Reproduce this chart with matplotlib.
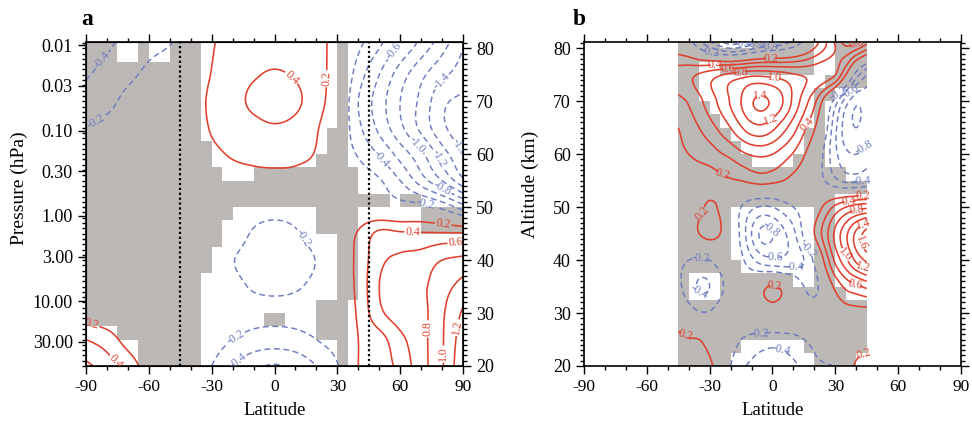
import numpy as np
import matplotlib
matplotlib.use("Agg")
import matplotlib.pyplot as plt
from matplotlib.colors import ListedColormap
from matplotlib.ticker import MultipleLocator, FixedLocator

plt.rcParams["font.family"] = ["Liberation Serif", "DejaVu Serif"]
plt.rcParams["axes.unicode_minus"] = False

GRAY = "#bcb8b6"
RED = "#e0402e"
BLUE = "#6d7cc0"

# ---------------- data ----------------
# field rows go from 80 km (top) down to 20 km, every 5 km
alt_km = np.arange(80, 19, -5)
lat_a = np.arange(-90, 91, 10)
lat_b = np.arange(-45, 46, 5)

# panel a, columns -90 .. 90 every 10 deg
field_a = [
    [-0.50, -0.42, -0.32, -0.24, -0.19, -0.10, 0.18, 0.26, 0.30, 0.32, 0.30, 0.25, 0.12, -0.17, -0.40, -0.65, -0.90, -1.15, -1.40],
    [-0.42, -0.33, -0.24, -0.16, -0.10, 0.00, 0.21, 0.30, 0.38, 0.42, 0.38, 0.28, 0.08, -0.30, -0.60, -0.90, -1.15, -1.35, -1.50],
    [-0.30, -0.25, -0.15, -0.10, -0.05, 0.05, 0.25, 0.33, 0.44, 0.50, 0.44, 0.28, 0.05, -0.40, -0.70, -1.00, -1.25, -1.55, -1.65],
    [-0.20, -0.15, -0.10, -0.06, -0.03, 0.05, 0.22, 0.28, 0.34, 0.38, 0.34, 0.22, 0.00, -0.35, -0.65, -0.95, -1.25, -1.55, -1.75],
    [-0.12, -0.08, -0.05, -0.03, 0.00, 0.05, 0.15, 0.22, 0.25, 0.27, 0.25, 0.18, -0.05, -0.22, -0.42, -0.68, -0.95, -1.30, -1.60],
    [-0.05, -0.03, -0.02, 0.00, 0.00, 0.02, 0.05, 0.10, 0.12, 0.12, 0.12, 0.08, -0.02, -0.08, -0.18, -0.40, -0.70, -1.00, -1.35],
    [0.00, 0.00, 0.00, 0.02, 0.03, 0.03, 0.00, -0.05, -0.10, -0.12, -0.10, -0.05, 0.00, 0.02, -0.05, -0.10, -0.12, -0.25, -0.50],
    [0.00, 0.00, 0.00, 0.02, 0.03, 0.02, -0.05, -0.10, -0.22, -0.26, -0.22, -0.10, 0.05, 0.22, 0.45, 0.43, 0.42, 0.42, 0.42],
    [0.00, 0.00, 0.00, 0.00, 0.00, 0.00, -0.05, -0.19, -0.27, -0.30, -0.27, -0.19, 0.05, 0.25, 0.55, 0.64, 0.68, 0.80, 0.85],
    [0.00, 0.00, 0.00, 0.00, 0.00, 0.00, -0.05, -0.14, -0.22, -0.24, -0.22, -0.14, 0.05, 0.25, 0.60, 0.72, 0.76, 0.92, 1.07],
    [0.10, 0.05, 0.00, 0.00, 0.00, 0.00, -0.03, -0.08, -0.13, -0.15, -0.13, -0.08, 0.02, 0.23, 0.55, 0.70, 0.74, 0.97, 1.23],
    [0.40, 0.30, 0.12, 0.02, 0.00, -0.03, -0.10, -0.20, -0.28, -0.30, -0.28, -0.20, -0.08, 0.20, 0.32, 0.55, 0.73, 0.98, 1.32],
    [0.65, 0.50, 0.32, 0.10, 0.00, -0.05, -0.20, -0.40, -0.55, -0.62, -0.55, -0.40, -0.22, 0.20, 0.28, 0.47, 0.72, 0.98, 1.38],
]

# panel b, columns -45 .. 45 every 5 deg
field_b = [
    [0.10, 0.00, -0.20, -0.35, -0.50, -0.60, -0.55, -0.45, -0.35, -0.30, -0.25, -0.15, 0.00, 0.20, 0.40, 0.60, 0.75, 0.65, 0.45],
    [0.50, 0.55, 0.62, 0.70, 0.78, 0.85, 0.90, 0.95, 0.95, 0.92, 0.88, 0.82, 0.78, 0.75, 0.72, 0.60, 0.20, -0.30, -0.60],
    [0.35, 0.42, 0.55, 0.70, 0.85, 1.02, 1.20, 1.38, 1.44, 1.36, 1.20, 0.95, 0.70, 0.45, 0.10, -0.30, -0.70, -0.95, -0.90],
    [0.20, 0.30, 0.40, 0.52, 0.65, 0.80, 0.98, 1.12, 1.15, 1.05, 0.88, 0.68, 0.45, 0.22, -0.10, -0.55, -0.90, -1.00, -0.90],
    [0.15, 0.20, 0.25, 0.30, 0.38, 0.45, 0.55, 0.62, 0.64, 0.60, 0.50, 0.38, 0.22, 0.02, -0.25, -0.55, -0.75, -0.80, -0.70],
    [0.05, 0.08, 0.10, 0.12, 0.15, 0.18, 0.20, 0.25, 0.28, 0.25, 0.20, 0.12, 0.05, -0.05, -0.20, -0.35, -0.45, -0.45, -0.40],
    [0.00, 0.05, 0.15, 0.23, 0.17, 0.00, -0.20, -0.35, -0.42, -0.40, -0.30, -0.20, -0.10, 0.05, 0.25, 0.45, 0.60, 0.70, 0.75],
    [-0.05, 0.05, 0.20, 0.28, 0.20, 0.00, -0.25, -0.60, -0.85, -0.80, -0.65, -0.45, -0.15, 0.20, 0.50, 0.85, 1.15, 1.45, 1.70],
    [-0.15, -0.20, -0.22, -0.20, -0.10, -0.05, -0.15, -0.35, -0.50, -0.55, -0.55, -0.50, -0.40, -0.15, 0.25, 0.65, 0.95, 1.25, 1.45],
    [-0.15, -0.30, -0.42, -0.40, -0.25, -0.10, 0.00, 0.05, 0.15, 0.22, 0.15, 0.00, -0.20, -0.28, 0.00, 0.25, 0.45, 0.55, 0.65],
    [0.00, -0.10, -0.18, -0.18, -0.10, -0.05, 0.00, 0.00, 0.05, 0.08, 0.05, 0.00, -0.05, -0.05, 0.00, 0.05, 0.10, 0.12, 0.12],
    [0.28, 0.22, 0.20, 0.10, 0.00, -0.10, -0.20, -0.25, -0.28, -0.30, -0.28, -0.25, -0.20, -0.15, -0.05, 0.00, 0.00, 0.05, 0.10],
    [0.40, 0.35, 0.30, 0.25, 0.05, -0.20, -0.35, -0.45, -0.55, -0.60, -0.55, -0.45, -0.35, -0.25, -0.22, -0.18, 0.00, 0.25, 0.35],
]

# shaded (not significant) cells, 5 deg x 2.5 km, run-length rows from 82.5 km down to 20 km
mask_a = [
    "3# 2. 1# 2. 3# 13. 1# 11.",
    "3# 2. 1# 2. 3# 13. 1# 11.",
    "11# 13. 1# 11.",
    "11# 13. 1# 11.",
    "11# 13. 1# 11.",
    "11# 13. 1# 11.",
    "11# 13. 1# 11.",
    "11# 12. 2# 11.",
    "12# 11. 2# 11.",
    "12# 10. 3# 11.",
    "13# 3. 10# 10.",
    "26# 10.",
    "29# 1. 2# 4.",
    "14# 8. 4# 6. 4#",
    "13# 9. 4# 6. 4#",
    "13# 11. 2# 10.",
    "12# 12. 2# 10.",
    "12# 12. 2# 10.",
    "11# 13. 2# 10.",
    "11# 13. 2# 10.",
    "11# 11. 3# 11.",
    "11# 6. 2# 3. 3# 11.",
    "3. 8# 11. 3# 11.",
    "5. 6# 13. 1# 11.",
    "5. 6# 13. 1# 11.",
]
mask_b = [
    "4# 3. 6# 2. 3#",
    "13# 2. 3#",
    "2# 2. 9# 2. 3#",
    "2# 12. 4#",
    "2# 11. 2# 3.",
    "3# 10. 1# 4.",
    "4# 9. 1# 4.",
    "5# 7. 2# 4.",
    "6# 6. 2# 4.",
    "7# 4. 3# 4.",
    "16# 2.",
    "18#",
    "15# 3.",
    "5# 8. 2# 3.",
    "5# 8. 2# 3.",
    "5# 8. 2# 3.",
    "5# 8. 2# 3.",
    "6# 7. 2# 3.",
    "1# 3. 7# 2. 2# 3.",
    "1# 3. 12# 2.",
    "18#",
    "18#",
    "18#",
    "6# 6. 6#",
    "5# 8. 4# 1.",
]

p_ticks = [0.01, 0.03, 0.1, 0.3, 1, 3, 10, 30]
p_labels = ["0.01", "0.03", "0.10", "0.30", "1.00", "3.00", "10.00", "30.00"]
scale_height = 7.0   # km, log-pressure altitude


def unrun(rows):
    out = []
    for row in rows:
        line = []
        for tok in row.split():
            line += [tok[-1] == "#"] * int(tok[:-1])
        out.append(line)
    return np.array(out[::-1])


def catmull(v, u, axis):
    v = np.moveaxis(np.asarray(v, float), axis, 0)
    n = len(v)
    i = np.clip(np.floor(u).astype(int), 0, n - 2)
    t = (u - i)[:, None]
    vp = np.concatenate([2 * v[:1] - v[1:2], v, 2 * v[-1:] - v[-2:-1]])
    p0, p1, p2, p3 = vp[i], vp[i + 1], vp[i + 2], vp[i + 3]
    r = 0.5 * (2 * p1 + (p2 - p0) * t + (2 * p0 - 5 * p1 + 4 * p2 - p3) * t ** 2
               + (3 * p1 - p0 - 3 * p2 + p3) * t ** 3)
    return np.moveaxis(r, 0, axis)


def draw(ax, lats, field, mask_rows):
    m = unrun(mask_rows)
    lat_edges = np.linspace(lats[0], lats[-1], m.shape[1] + 1)
    alt_edges = 20 + 2.5 * np.arange(m.shape[0] + 1)
    ax.pcolormesh(lat_edges, alt_edges, np.ma.masked_where(~m, np.ones(m.shape)),
                  cmap=ListedColormap([GRAY]), shading="flat", zorder=1)

    z = np.array(field, float)[::-1]
    alt_up = alt_km[::-1]
    lat_f = np.linspace(lats[0], lats[-1], 20 * (len(lats) - 1) + 1)
    alt_f = np.linspace(20, 81.25, 246)
    zf = catmull(z, (alt_f - alt_up[0]) / 5.0, 0)
    zf = catmull(zf, (lat_f - lats[0]) / (lats[1] - lats[0]), 1)

    pos = np.round(np.arange(0.2, 2.01, 0.2), 1)
    neg = -pos[::-1]
    cp = ax.contour(lat_f, alt_f, zf, levels=pos, colors=RED, linewidths=1.15, zorder=2)
    cn = ax.contour(lat_f, alt_f, zf, levels=neg, colors=BLUE, linewidths=1.05,
                    linestyles=[(0, (4, 2.5))], zorder=2)
    for cs in (cp, cn):
        ax.clabel(cs, fmt="%.1f", fontsize=8.5, inline=True, inline_spacing=1)


def style(ax):
    ax.set_xlim(-90, 90)
    ax.set_ylim(20, 81.2)
    ax.xaxis.set_major_locator(MultipleLocator(30))
    ax.xaxis.set_minor_locator(MultipleLocator(10))
    ax.tick_params(which="both", direction="out", top=True, width=1)
    ax.tick_params(axis="x", labelsize=12.5)
    ax.tick_params(axis="y", labelsize=13)
    ax.tick_params(which="major", length=6)
    ax.tick_params(which="minor", length=3)
    for s in ax.spines.values():
        s.set_linewidth(1.2)
    ax.set_xlabel("Latitude", fontsize=13.5)
    ax.xaxis.set_label_coords(0.5, -0.11)


fig = plt.figure(figsize=(9.72, 4.23), dpi=100)
axa = fig.add_axes([0.0885, 0.1348, 0.3879, 0.766])
axb = fig.add_axes([0.6008, 0.1348, 0.3879, 0.766])

# panel a
draw(axa, lat_a, field_a, mask_a)
style(axa)
for x0 in (-45, 45):
    axa.axvline(x0, color="k", ls=(0, (1, 1.2)), lw=1.6, zorder=3)
axa.yaxis.set_major_locator(FixedLocator([scale_height * np.log(1000 / p) for p in p_ticks]))
axa.set_yticklabels(p_labels)
axa.yaxis.set_minor_locator(MultipleLocator(1))
axa.set_ylabel("Pressure (hPa)", fontsize=14)
axa.yaxis.set_label_coords(-0.155, 0.55)

axr = axa.twinx()
axr.set_ylim(20, 81.2)
axr.yaxis.set_major_locator(MultipleLocator(10))
axr.yaxis.set_minor_locator(MultipleLocator(1))
axr.tick_params(which="both", direction="out", labelsize=13, width=1)
axr.tick_params(which="major", length=6)
axr.tick_params(which="minor", length=3)

# panel b
draw(axb, lat_b, field_b, mask_b)
style(axb)
axb.yaxis.set_major_locator(MultipleLocator(10))
axb.yaxis.set_minor_locator(MultipleLocator(1))
axb.tick_params(which="both", right=True)
axb.set_ylabel("Altitude (km)", fontsize=14)
axb.yaxis.set_label_coords(-0.12, 0.56)

fig.text(0.084, 0.953, "a", fontsize=17, fontweight="bold", va="center")
fig.text(0.5895, 0.953, "b", fontsize=17, fontweight="bold", va="center")

fig.savefig("out.png", dpi=100)
